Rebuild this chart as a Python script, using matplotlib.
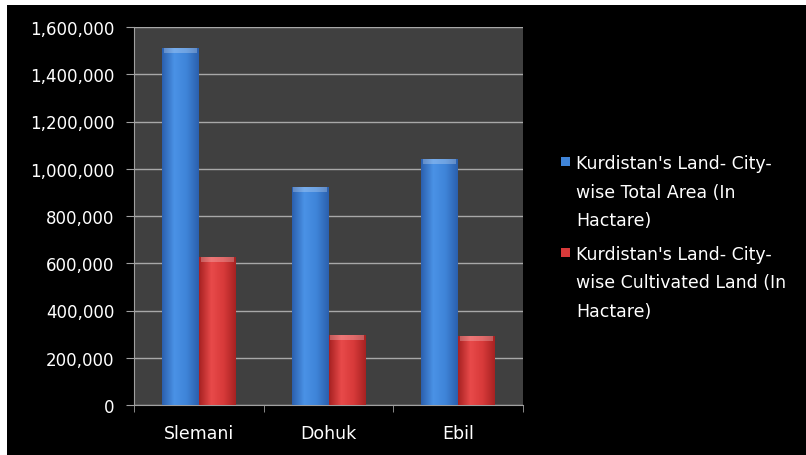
import numpy as np
import matplotlib
matplotlib.use("Agg")
import matplotlib.pyplot as plt
from matplotlib.colors import LinearSegmentedColormap
from matplotlib.patches import Rectangle
from matplotlib.ticker import FuncFormatter

cities = ["Slemani", "Dohuk", "Ebil"]
total_area = [1510000, 922000, 1040000]
cultivated = [626000, 296000, 292000]
series_names = ["Kurdistan's Land- City-\nwise Total Area (In\nHactare)",
                "Kurdistan's Land- City-\nwise Cultivated Land (In\nHactare)"]
yticks = [0, 200000, 400000, 600000, 800000, 1000000, 1200000, 1400000, 1600000]

plt.rcParams['font.family'] = ['DejaVu Sans']

W, H = 806, 456
fig = plt.figure(figsize=(W / 100, H / 100), dpi=100, facecolor='white')
# black chart area with the thin white edge on top/left like the screenshot
fig.patches.append(Rectangle((7 / W, 0), 1, 450 / H, transform=fig.transFigure,
                             facecolor='black', edgecolor='none', zorder=-10))

ax = fig.add_axes([134 / W, (H - 406) / H, 389 / W, 378 / H])
ax.set_facecolor('#404040')

blue_cm = LinearSegmentedColormap.from_list('b', ['#2b60ae', '#4a92e6', '#3f84d8', '#2b60ae'])
red_cm = LinearSegmentedColormap.from_list('r', ['#a82222', '#e84a4a', '#d83a3a', '#a82222'])
colors = ['#3f84d8', '#d83a3a']

w = 0.285
x = np.arange(len(cities))
grad = np.linspace(0, 1, 64).reshape(1, -1)
for vals, off, cm, col in [(total_area, -w / 2, blue_cm, colors[0]), (cultivated, w / 2, red_cm, colors[1])]:
    bars = ax.bar(x + off, vals, w, color=col, zorder=2)
    for b in bars:
        x0, y1 = b.get_x(), b.get_height()
        im = ax.imshow(grad, cmap=cm, aspect='auto', extent=[x0, x0 + w, 0, y1], zorder=3)
        im.set_clip_path(b)
        # lighter top cap
        ax.bar(x0 + w / 2, 22000, w * 0.9, bottom=y1 - 22000, color='white', alpha=0.25, zorder=4)

ax.set_xlim(-0.5, 2.5)
ax.set_ylim(0, 1600000)
ax.set_yticks(yticks)
ax.yaxis.set_major_formatter(FuncFormatter(lambda v, p: f"{int(v):,}"))
ax.set_xticks(x)
ax.set_xticklabels(cities)
ax.set_xticks([-0.5, 0.5, 1.5, 2.5], minor=True)
ax.tick_params(axis='x', which='major', length=0, pad=14, colors='white', labelsize=12.5)
ax.tick_params(axis='x', which='minor', length=5, color='#a0a0a0', direction='out')
ax.tick_params(axis='y', length=6, color='#a0a0a0', colors='white', labelsize=12, pad=8)
ax.grid(axis='y', color='#a8a8a8', linewidth=1, zorder=1)
ax.set_axisbelow(True)
for s in ['top', 'right']:
    ax.spines[s].set_visible(False)
for s in ['left', 'bottom']:
    ax.spines[s].set_color('#a0a0a0')

# legend on the right, drawn by hand so the wrapped lines keep their spacing
for i, (name, col) in enumerate(zip(series_names, colors)):
    ytop = 155 + i * 91
    fig.patches.append(Rectangle((561 / W, 1 - (ytop + 12) / H), 9 / W, 9 / H,
                                 transform=fig.transFigure, facecolor=col, edgecolor='none'))
    fig.text(576 / W, 1 - ytop / H, name, color='white', fontsize=12.5,
             va='top', ha='left', linespacing=1.75)

fig.savefig('out.png', dpi=100, facecolor=fig.get_facecolor())
